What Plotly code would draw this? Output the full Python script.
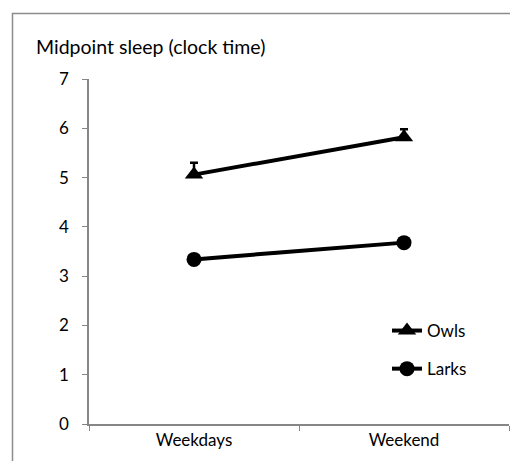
import plotly.graph_objects as go

categories = ["Weekdays", "Weekend"]
owls = [5.06, 5.82]
owls_err = [0.24, 0.16]
larks = [3.34, 3.68]
larks_err = [0.05, 0.05]
yticks = [0, 1, 2, 3, 4, 5, 6, 7]

OFF = 8  # page body margin
W, H = 518 - 2 * OFF, 469 - 2 * OFF
# plot area in reference pixels: x 89..509, y 79..424
L, T = 89 - OFF, 79 - OFF
R = W - (509 - OFF)
B = H - (424 - OFF)
pw, ph = W - L - R, H - T - B

def px_x(x):
    return (x - OFF - L) / pw

def px_y(y):
    return (H - B - (y - OFF)) / ph

fig = go.Figure()
fig.add_trace(go.Scatter(
    x=categories, y=owls, name="Owls", mode="lines+markers",
    line=dict(color="black", width=4),
    marker=dict(symbol="triangle-up", size=16, color="black"),
    error_y=dict(type="data", symmetric=False, array=owls_err,
                 arrayminus=[0, 0], color="black", thickness=2.5, width=4),
    legendgroup="a",
))
fig.add_trace(go.Scatter(
    x=categories, y=larks, name="Larks", mode="lines+markers",
    line=dict(color="black", width=4),
    marker=dict(symbol="circle", size=15, color="black"),
    error_y=dict(type="data", symmetric=False, array=larks_err,
                 arrayminus=[0, 0], color="black", thickness=2, width=4),
    legendgroup="b",
))

fig.add_shape(type="path", xref="paper", yref="paper",
              path=f"M {px_x(12.5)},{px_y(480)} L {px_x(12.5)},{px_y(13.5)} L {px_x(517.5)},{px_y(13.5)}",
              line=dict(color="#8c8c8c", width=1.5), layer="below")

fig.add_annotation(text="Midpoint sleep (clock time)", xref="paper", yref="paper",
                   x=px_x(34), y=px_y(47), xanchor="left", yanchor="middle",
                   showarrow=False, font=dict(size=19.5, color="black"))

fig.update_layout(
    width=W, height=H,
    margin=dict(l=L, r=R, t=T, b=B, autoexpand=False),
    paper_bgcolor="white", plot_bgcolor="white",
    font=dict(family="Lato, Open Sans, sans-serif", size=17, color="black"),
    showlegend=True,
    legend=dict(x=px_x(387), y=px_y(313), xanchor="left", yanchor="top",
                bgcolor="rgba(0,0,0,0)", tracegroupgap=13,
                font=dict(size=17), itemwidth=30),
    xaxis=dict(type="category", range=[-0.5, 1.5], showline=True,
               linecolor="#868686", linewidth=1.5, ticks="outside",
               tickson="boundaries", ticklen=5, tickcolor="#868686",
               showgrid=False, zeroline=False),
    yaxis=dict(range=[0, 7], tickvals=yticks, showline=True,
               linecolor="#868686", linewidth=1.5, ticks="outside",
               ticklen=5, tickcolor="#868686", showgrid=False,
               zeroline=False, ticklabelstandoff=10),
)

fig.write_html("out.html")
